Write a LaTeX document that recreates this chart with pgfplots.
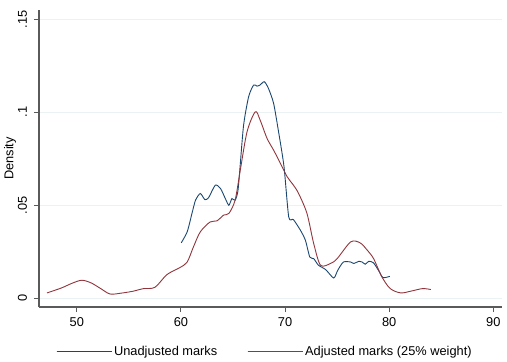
\documentclass[border=0pt]{standalone}
\usepackage{pgfplots}
\pgfplotsset{compat=1.18}
\usepackage{fontspec}
\setmainfont{Liberation Sans}
\definecolor{snavy}{RGB}{26,71,111}
\definecolor{smaroon}{RGB}{144,53,59}
\definecolor{sgrid}{RGB}{234,242,243}
\definecolor{saxis}{RGB}{90,90,90}
\begin{document}
\fontsize{12.8bp}{15bp}\selectfont
\begin{tikzpicture}
\begin{axis}[
  scale only axis,
  width=463bp, height=297bp,
  xmin=46.37, xmax=90.83,
  ymin=-0.00468, ymax=0.1549,
  axis x line*=bottom, axis y line*=left,
  axis line style={saxis, line width=1.4bp, -},
  xtick={50,60,70,80,90},
  ytick={0,0.05,0.1,0.15},
  yticklabels={0,.05,.1,.15},
  scaled y ticks=false,
  tick style={saxis, line width=0.9bp},
  tick align=outside,
  major tick length=5bp,
  ymajorgrids,
  grid style={sgrid, line width=0.8bp},
  /pgf/number format/assume math mode=true,
  ticklabel style={font=\fontsize{12.8bp}{15bp}\selectfont},
  yticklabel style={rotate=90, anchor=base},
  yticklabel shift=7bp,
  xticklabel style={yshift=-1bp},
  ylabel={Density},
  ylabel style={font=\fontsize{12.8bp}{15bp}\selectfont, at={([xshift=-25.5bp]rel axis cs:0,0.5)}, anchor=base, rotate=0},
  legend columns=2,
  legend style={draw=none, at={(0.488,-0.118)}, anchor=north, font=\fontsize{12.8bp}{15bp}\selectfont,
    /tikz/every even column/.append style={column sep=28bp}},
  legend cell align=left,
  legend image code/.code={\draw[#1] (0bp,0bp) -- (50bp,0bp); \path (0bp,0bp) -- (55bp,0bp);},
]
\addplot[snavy, line width=0.9bp, smooth, tension=0.4] coordinates {
(60.03,0.0298) (60.6,0.0357) (61.06,0.0456) (61.4,0.0527) (61.86,0.0563) (62.3,0.053) (62.66,0.0541)
(63.3,0.0608) (63.8,0.059) (64.26,0.0536) (64.6,0.05) (64.9,0.0536) (65.2,0.0527) (65.5,0.059)
(66.0,0.0922) (66.5,0.1083) (66.98,0.1146) (67.3,0.114) (67.6,0.1146) (68.0,0.1164) (68.4,0.1128)
(68.9,0.1047) (69.4,0.0886) (69.9,0.0706) (70.35,0.0437) (70.8,0.0423) (71.47,0.0366) (71.95,0.0312)
(72.37,0.0222) (72.75,0.0213) (73.2,0.0178) (73.9,0.0154) (74.67,0.0109) (75.06,0.0151) (75.6,0.0195)
(76.3,0.0195) (76.6,0.0187) (77.1,0.0199) (77.4,0.0195) (77.7,0.0183) (78.04,0.0199) (78.5,0.019)
(79.0,0.0147) (79.4,0.0111) (80.06,0.0118)
};
\addlegendentry{Unadjusted marks}
\addplot[smaroon, line width=0.9bp, smooth, tension=0.5] coordinates {
(47.14,0.0029) (48.5,0.0055) (49.6,0.0082) (50.5,0.0097) (51.4,0.0082) (52.3,0.0052) (53.2,0.0023)
(54.3,0.0028) (55.4,0.0038) (56.4,0.0052) (57.5,0.0059) (58.65,0.0127) (59.9,0.0165) (60.6,0.0195)
(61.2,0.0276) (61.86,0.0357) (62.8,0.041) (63.46,0.0416) (64.1,0.0447) (64.6,0.0456) (65.2,0.0527)
(65.7,0.0689) (66.35,0.0895) (67.14,0.1002) (67.6,0.0958) (68.27,0.0859) (68.9,0.0796) (69.55,0.0725)
(70.2,0.0653) (70.8,0.0608) (71.3,0.0563) (72.1,0.0456) (72.75,0.0294) (73.4,0.0178) (74.36,0.0187)
(75.0,0.0213) (76.3,0.0303) (77.2,0.0298) (77.9,0.0258) (78.5,0.0213) (79.3,0.0115) (80.1,0.0052)
(81.1,0.0029) (82.05,0.0038) (83.2,0.0052) (84.0,0.0047)
};
\addlegendentry{Adjusted marks (25\% weight)}
\end{axis}
\pgfresetboundingbox
\path (current axis.south west) ++(-39bp,-55bp) rectangle ++(507bp,362bp);
\end{tikzpicture}
\end{document}
